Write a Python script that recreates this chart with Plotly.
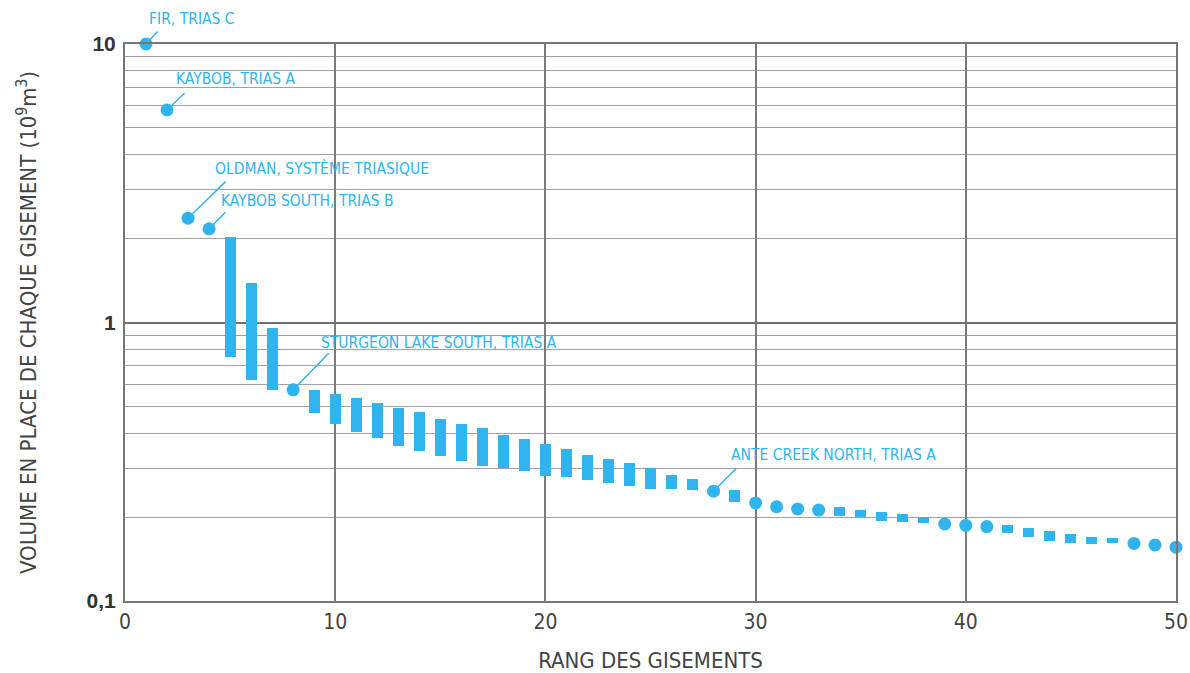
import plotly.graph_objects as go
import math

# ---- data ----
point_ranks = [1, 2, 3, 4, 8, 28, 30, 31, 32, 33, 39, 40, 41, 48, 49, 50]
point_values = [10.0, 5.8, 2.37, 2.17, 0.573, 0.248, 0.225, 0.218, 0.214, 0.212,
                0.189, 0.187, 0.185, 0.161, 0.159, 0.156]

range_ranks = [5, 6, 7, 9, 10, 11, 12, 13, 14, 15, 16, 17, 18, 19, 20, 21, 22, 23,
               24, 25, 26, 27, 29, 34, 35, 36, 37, 38, 42, 43, 44, 45, 46, 47]
range_high = [2.03, 1.39, 0.955, 0.573, 0.553, 0.536, 0.514, 0.493, 0.477, 0.451,
              0.432, 0.418, 0.395, 0.382, 0.367, 0.351, 0.334, 0.324, 0.313, 0.301,
              0.283, 0.274, 0.250, 0.218, 0.212, 0.209, 0.205, 0.200, 0.187, 0.183,
              0.178, 0.174, 0.170, 0.168]
range_low = [0.75, 0.62, 0.573, 0.473, 0.432, 0.405, 0.385, 0.361, 0.346, 0.332,
             0.318, 0.305, 0.300, 0.293, 0.281, 0.279, 0.272, 0.265, 0.259, 0.252,
             0.252, 0.250, 0.227, 0.202, 0.200, 0.194, 0.192, 0.190, 0.175, 0.170,
             0.164, 0.161, 0.160, 0.161]

label_ranks = [1, 2, 3, 4, 8, 28]
label_texts = ["FIR, TRIAS C", "KAYBOB, TRIAS A", "OLDMAN, SYSTÈME TRIASIQUE",
               "KAYBOB SOUTH, TRIAS B", "STURGEON LAKE SOUTH, TRIAS A",
               "ANTE CREEK NORTH, TRIAS A"]
# text offsets (pixels) and leader-line tail offsets (pixels)
label_dx = [1, 7, 25, 10, 26, 15]
label_dy = [25, 31, 50, 28, 47, 36]
leader_ax = [13, 19, 39, 18, 37, 24]
leader_ay = [-14, -18, -38, -18, -38, -24]

x_ticks = [0, 10, 20, 30, 40, 50]
y_ticks = [0.1, 1, 10]
y_ticktext = ["0,1", "1", "10"]
minor_vals = [m * d for d in (0.1, 1) for m in range(2, 10)]

BLUE = "#30B4EE"
NARROW = "DejaVu Sans Condensed, Arial, sans-serif"

fig = go.Figure()

fig.add_trace(go.Bar(
    x=range_ranks,
    y=[h - l for h, l in zip(range_high, range_low)],
    base=range_low,
    width=0.52,
    marker=dict(color=BLUE, line=dict(width=0)),
    showlegend=False,
    hoverinfo="skip",
))

fig.add_trace(go.Scatter(
    x=point_ranks, y=point_values, mode="markers",
    marker=dict(color=BLUE, size=13, line=dict(width=0)),
    cliponaxis=False, showlegend=False,
))

pv = dict(zip(point_ranks, point_values))
for r, t, dx, dy, ax, ay in zip(label_ranks, label_texts, label_dx, label_dy, leader_ax, leader_ay):
    yv = math.log10(pv[r])
    fig.add_annotation(x=r, y=yv, text=t, showarrow=False, xanchor="left", yanchor="middle",
                       xshift=dx, yshift=dy, font=dict(family=NARROW, size=15.5, color=BLUE))
    fig.add_annotation(x=r, y=yv, text="", showarrow=True, ax=ax, ay=ay, arrowhead=0,
                       arrowwidth=1.5, arrowcolor=BLUE, standoff=6)

fig.update_layout(
    width=1190, height=673,
    margin=dict(l=125, r=14, t=44, b=72),
    paper_bgcolor="white", plot_bgcolor="white",
    bargap=0,
    font=dict(family=NARROW, color="#444"),
)

fig.update_xaxes(
    range=[0, 50], tickvals=x_ticks,
    showgrid=True, gridcolor="#7a7a7a", gridwidth=1.6,
    showline=True, linecolor="#777", linewidth=2, mirror=True,
    zeroline=False, ticks="", ticklabelstandoff=1, automargin=False,
    tickfont=dict(family=NARROW, size=21, color="#444"),
    title=dict(text="RANG DES GISEMENTS", font=dict(family=NARROW, size=22, color="#444"), standoff=19),
)

fig.update_yaxes(
    type="log", range=[-1, 1],
    tickvals=y_ticks, ticktext=y_ticktext,
    showgrid=True, gridcolor="#6f6f6f", gridwidth=1.6,
    minor=dict(tickvals=minor_vals, showgrid=True, gridcolor="#a0a0a0", gridwidth=1.2, ticks=""),
    showline=True, linecolor="#777", linewidth=2, mirror=True,
    zeroline=False, ticks="", ticklabelstandoff=3, automargin=False,
    tickfont=dict(family="Liberation Sans, Arial, sans-serif", size=21, color="#333", weight="bold"),
    title=dict(text="VOLUME EN PLACE DE CHAQUE GISEMENT (10<sup>9</sup>m<sup>3</sup>)",
               font=dict(family=NARROW, size=22, color="#444"), standoff=44),
)

fig.write_html("out.html")
